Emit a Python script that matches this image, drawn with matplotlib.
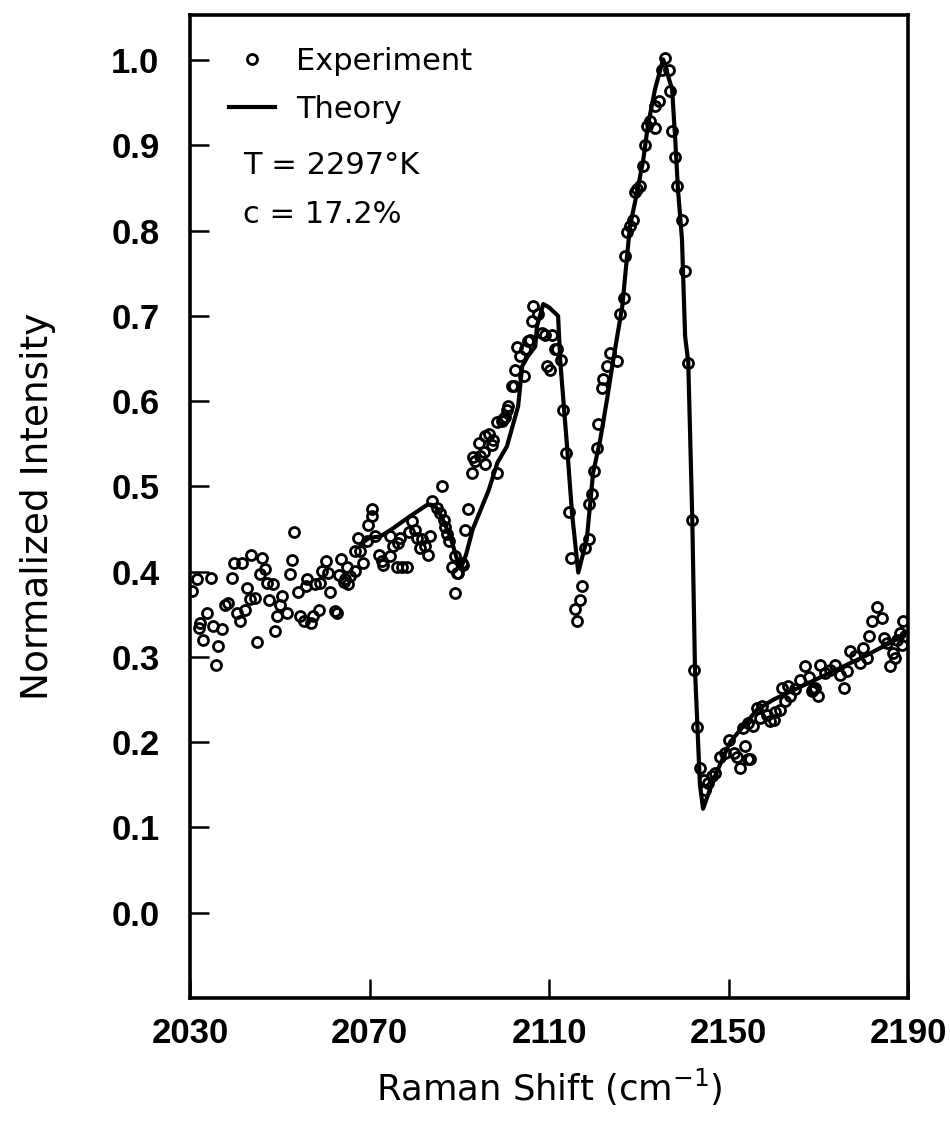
import numpy as np
import matplotlib.pyplot as plt

exp_x = [
    2030.4, 2031.5, 2031.9, 2032.2, 2033.0, 2033.7, 2034.7, 2035.2, 2035.7, 2036.3,
    2037.1, 2037.8, 2038.5, 2039.3, 2039.7, 2040.4, 2041.1, 2041.5, 2042.3, 2042.6,
    2043.4, 2043.7, 2044.5, 2044.9, 2045.6, 2046.0, 2046.6, 2047.1, 2047.5, 2048.4,
    2048.9, 2049.3, 2050.1, 2050.4, 2051.5, 2052.3, 2052.8, 2053.2, 2054.0, 2054.5,
    2055.3, 2055.8, 2056.0, 2057.0, 2057.5, 2057.9, 2059.0, 2058.7, 2059.5, 2060.2,
    2060.8, 2061.2, 2062.2, 2062.7, 2063.2, 2063.6, 2064.2,
    2064.5, 2064.9, 2065.3, 2065.6, 2066.8, 2066.8, 2067.5, 2067.9, 2068.6, 2069.4,
    2069.7, 2070.5, 2070.5, 2071.2, 2072.0, 2072.7, 2073.1, 2074.6, 2074.6, 2075.3,
    2076.1, 2076.4, 2076.8, 2077.2, 2078.3, 2078.7, 2079.4, 2080.1, 2080.5, 2081.3,
    2081.6, 2082.4, 2083.1, 2083.5, 2083.9, 2085.0, 2085.7, 2086.1, 2086.5, 2086.8,
    2087.2, 2087.6, 2088.3, 2089.0, 2089.0, 2089.4, 2089.8, 2090.5, 2090.9, 2091.3,
    2092.0,
    2092.8, 2093.1, 2093.5, 2094.3, 2094.6, 2095.4, 2095.7, 2095.7, 2096.5, 2097.2,
    2097.6, 2098.3, 2098.3, 2099.5, 2099.8, 2100.2, 2100.6, 2100.9, 2101.7, 2102.1,
    2102.4, 2102.8, 2103.5, 2104.3, 2104.6, 2105.4, 2105.7, 2106.1, 2106.5, 2107.6,
    2108.4, 2109.1, 2109.5, 2110.2, 2110.6, 2111.3, 2111.7, 2112.6,
    2113.0, 2113.7, 2114.4, 2114.9, 2115.8, 2116.3, 2116.9, 2117.4, 2118.0, 2118.8,
    2119.0, 2119.5, 2119.9, 2120.6, 2121.0, 2121.7, 2122.1, 2122.9, 2123.6, 2125.1,
    2125.8, 2126.6,
    2126.9, 2127.3, 2128.0, 2128.8, 2129.2, 2129.5, 2130.3, 2131.0, 2131.4, 2131.8,
    2132.5, 2133.6, 2133.6, 2134.4, 2135.1, 2135.9, 2136.6, 2137.0, 2137.3, 2138.1,
    2138.6, 2139.6, 2140.3, 2141.0, 2141.8, 2142.3, 2143.0, 2143.6, 2144.4, 2144.8,
    2145.5, 2146.2, 2147.0,
    2148.1, 2149.2, 2150.0, 2151.1, 2151.8, 2152.6, 2153.7, 2154.4, 2154.8, 2153.3,
    2154.4, 2155.5, 2156.3, 2157.4, 2158.5, 2159.2, 2160.4, 2161.5, 2162.6, 2161.8,
    2163.3, 2164.8, 2165.9, 2167.0, 2167.8, 2168.5, 2169.3, 2170.4, 2171.5, 2172.6,
    2173.7, 2175.6, 2174.8, 2176.3, 2177.1, 2178.2, 2179.3, 2180.0, 2180.8, 2181.2,
    2181.9, 2183.0, 2184.1, 2184.5, 2185.3, 2186.0, 2186.7, 2187.5, 2188.2, 2188.9,
    2189.3, 2188.6, 2187.1, 2157.0, 2160.0, 2163.7, 2168.9, 2170.0,
]
exp_y = [
    0.377, 0.391, 0.334, 0.340, 0.320, 0.352, 0.393, 0.336, 0.291, 0.313,
    0.333, 0.361, 0.363, 0.393, 0.410, 0.352, 0.342, 0.410, 0.355, 0.381,
    0.368, 0.419, 0.369, 0.317, 0.397, 0.416, 0.403, 0.387, 0.367, 0.385,
    0.331, 0.348, 0.361, 0.372, 0.352, 0.397, 0.414, 0.446, 0.376, 0.348,
    0.342, 0.383, 0.392, 0.340, 0.348, 0.385, 0.387, 0.355, 0.401, 0.412,
    0.398, 0.376, 0.354, 0.352, 0.396, 0.415, 0.388,
    0.391, 0.406, 0.385, 0.395, 0.401, 0.424, 0.440, 0.424, 0.410, 0.436,
    0.455, 0.473, 0.465, 0.442, 0.420, 0.412, 0.408, 0.418, 0.442, 0.430,
    0.406, 0.434, 0.440, 0.406, 0.406, 0.446, 0.459, 0.449, 0.440, 0.428,
    0.438, 0.430, 0.420, 0.442, 0.483, 0.475, 0.469, 0.500, 0.461, 0.453,
    0.444, 0.436, 0.406, 0.418, 0.375, 0.399, 0.398, 0.410, 0.408, 0.449,
    0.473,
    0.516, 0.534, 0.530, 0.551, 0.536, 0.540, 0.559, 0.526, 0.561, 0.549,
    0.555, 0.516, 0.575, 0.577, 0.579, 0.582, 0.590, 0.594, 0.618, 0.618,
    0.637, 0.663, 0.653, 0.630, 0.661, 0.671, 0.672, 0.694, 0.712, 0.702,
    0.680, 0.678, 0.641, 0.637, 0.678, 0.661, 0.661, 0.648,
    0.590, 0.539, 0.470, 0.416, 0.356, 0.342, 0.367, 0.383, 0.428, 0.438,
    0.479, 0.491, 0.518, 0.545, 0.573, 0.616, 0.626, 0.641, 0.657, 0.647,
    0.702, 0.721,
    0.770, 0.798, 0.806, 0.813, 0.845, 0.849, 0.852, 0.876, 0.901, 0.923,
    0.929, 0.921, 0.946, 0.952, 0.989, 1.003, 0.989, 0.964, 0.917, 0.886,
    0.852, 0.813, 0.753, 0.645, 0.461, 0.285, 0.218, 0.170, 0.156, 0.144,
    0.152, 0.160, 0.164,
    0.183, 0.187, 0.203, 0.187, 0.183, 0.170, 0.195, 0.180, 0.180, 0.217,
    0.223, 0.219, 0.240, 0.242, 0.232, 0.225, 0.236, 0.238, 0.248, 0.264,
    0.266, 0.262, 0.273, 0.289, 0.277, 0.260, 0.264, 0.291, 0.281, 0.285,
    0.291, 0.264, 0.279, 0.283, 0.307, 0.301, 0.293, 0.311, 0.299, 0.324,
    0.342, 0.359, 0.346, 0.322, 0.316, 0.289, 0.305, 0.320, 0.328, 0.342,
    0.324, 0.314, 0.299, 0.228, 0.226, 0.254, 0.262, 0.254,
]

# Curva teorica
th_x = [2068.0, 2070.0, 2072.3, 2075.0, 2079.0, 2083.0, 2084.5, 2086.0, 2088.0, 2089.7,
        2090.5, 2091.5, 2093.0, 2096.5, 2098.5, 2100.6, 2103.1, 2104.0, 2105.3, 2106.9,
        2107.3, 2108.7, 2110.0, 2112.0, 2112.5, 2114.0, 2115.1, 2116.5, 2118.4, 2119.8,
        2121.4, 2122.9, 2124.3, 2126.3, 2128.0, 2129.6, 2131.0, 2132.0, 2133.6, 2135.4,
        2137.4, 2138.1, 2138.7, 2139.6, 2140.3, 2141.0, 2141.9, 2142.5, 2143.6, 2144.3,
        2146.6, 2150.3, 2156.3, 2160.0, 2170.0, 2180.0, 2189.0]
th_y = [0.432, 0.440, 0.441, 0.450, 0.465, 0.479, 0.478, 0.465, 0.441, 0.411,
        0.406, 0.420, 0.450, 0.495, 0.528, 0.547, 0.594, 0.641, 0.653, 0.664,
        0.688, 0.714, 0.710, 0.700, 0.646, 0.547, 0.469, 0.399, 0.438, 0.516,
        0.555, 0.602, 0.649, 0.711, 0.805, 0.845, 0.884, 0.923, 0.966, 1.001,
        0.966, 0.907, 0.849, 0.790, 0.676, 0.646, 0.461, 0.285, 0.150, 0.122,
        0.156, 0.200, 0.238, 0.250, 0.275, 0.300, 0.325]

x_ticks = [2030, 2070, 2110, 2150, 2190]
y_ticks = [0.0, 0.1, 0.2, 0.3, 0.4, 0.5, 0.6, 0.7, 0.8, 0.9, 1.0]

plt.rcParams['font.family'] = 'DejaVu Sans'
fig = plt.figure(figsize=(9.5, 11.27), dpi=100)
ax = fig.add_axes([0.2, 0.1145, 0.756, 0.8722])

ax.plot(th_x, th_y, color='black', linewidth=3.0, label='Theory', zorder=3)
ax.plot(exp_x, exp_y, linestyle='none', marker='o', markersize=7.2, markerfacecolor='none',
        markeredgecolor='black', markeredgewidth=2.0, label='Experiment', zorder=4)

ax.set_xlim(2030, 2190)
ax.set_ylim(-0.1, 1.053)
ax.set_xticks(x_ticks)
ax.set_yticks(y_ticks)
tick_font = dict(family='Liberation Sans', weight='bold', size=25)
ax.set_xticklabels([str(v) for v in x_ticks], **tick_font)
ax.set_yticklabels([f'{v:.1f}' for v in y_ticks], **tick_font)
ax.tick_params(direction='in', length=14, width=1.8)
ax.tick_params(axis='y', pad=22)
ax.tick_params(axis='x', pad=14)
for s in ax.spines.values():
    s.set_linewidth(2.6)

ax.set_xlabel('Raman Shift (cm$^{-1}$)', fontsize=25.5, labelpad=12)
ax.set_ylabel('Normalized Intensity', fontsize=27, labelpad=40)

h, l = ax.get_legend_handles_labels()
ax.legend([h[1], h[0]], [l[1], l[0]], loc='upper left', bbox_to_anchor=(0.037, 0.98),
          frameon=False, fontsize=22, handlelength=1.5, handletextpad=0.7,
          labelspacing=0.62, borderaxespad=0)
ax.text(2041.8, 0.877, 'T = 2297°K', fontsize=22, va='center')
ax.text(2041.8, 0.819, 'c = 17.2%', fontsize=22, va='center')

fig.savefig('out.png', dpi=100)
